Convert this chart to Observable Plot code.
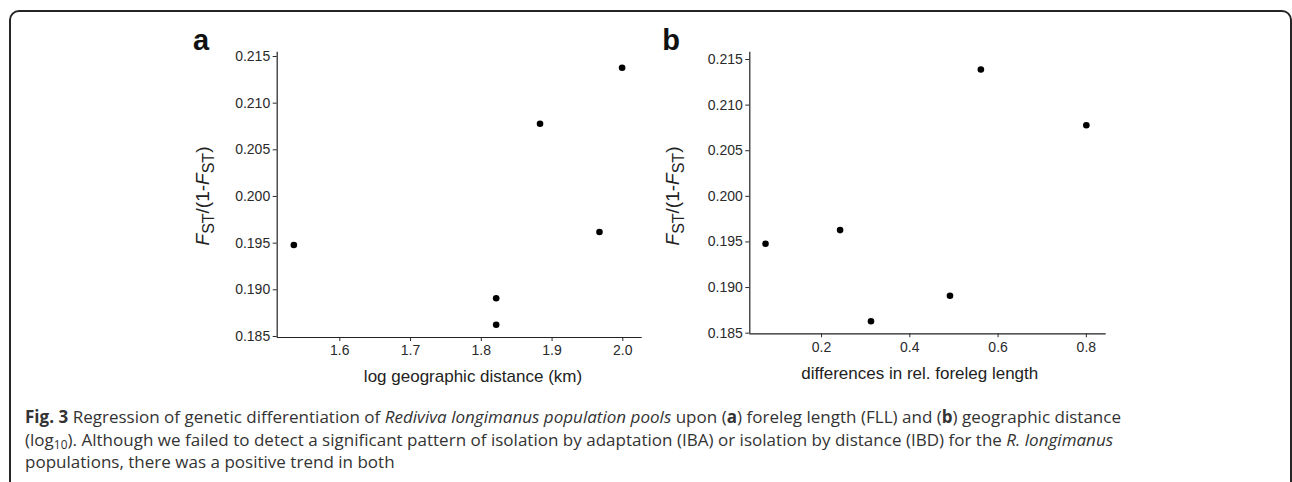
<!DOCTYPE html>
<html>
<head>
<meta charset="utf-8">
<script src="https://cdn.jsdelivr.net/npm/d3@7"></script>
<script src="https://cdn.jsdelivr.net/npm/@observablehq/plot@0.6"></script>
<style>
html, body { margin: 0; padding: 0; background: #fff; }
#root { position: relative; width: 1292px; height: 482px; overflow: hidden; }
#frame { position: absolute; left: 9px; top: 10px; width: 1283px; height: 600px; border: 2px solid #262626; border-radius: 10px; box-sizing: border-box; pointer-events: none; }
.panel { position: absolute; top: 0; }
#caption { position: absolute; left: 25px; top: 406px; font-family: "Open Sans", sans-serif; font-size: 17px; line-height: 22.5px; color: #333; white-space: nowrap; }
#caption sub { font-size: 0.7em; line-height: 0; vertical-align: -0.25em; }
</style>
</head>
<body>
<div id="root">
  <div id="panelA" class="panel" style="left:150px"></div>
  <div id="panelB" class="panel" style="left:620px"></div>
  <div id="caption">
    <div class="ln" id="ln1"><b>Fig. 3</b> Regression of genetic differentiation of <i>Rediviva longimanus population pools</i> upon (<b>a</b>) foreleg length (FLL) and (<b>b</b>) geographic distance</div>
    <div class="ln">(log<sub>10</sub>). Although we failed to detect a significant pattern of isolation by adaptation (IBA) or isolation by distance (IBD) for the <i>R. longimanus</i></div>
    <div class="ln">populations, there was a positive trend in both</div>
  </div>
  <div id="frame"></div>
</div>
<script>
// ---- data ----
const logDistance = [1.535, 1.821, 1.821, 1.883, 1.967, 1.999];
const fstDistance = [0.1948, 0.1891, 0.18625, 0.2078, 0.1962, 0.2138];
const forelegDiff = [0.073, 0.242, 0.312, 0.491, 0.561, 0.800];
const fstForeleg = [0.1948, 0.1963, 0.1863, 0.1891, 0.2139, 0.2078];
const xTicksA = [1.6, 1.7, 1.8, 1.9, 2.0];
const xTicksB = [0.2, 0.4, 0.6, 0.8];
const yTicks = [0.185, 0.190, 0.195, 0.200, 0.205, 0.210, 0.215];
const xTitleA = "log geographic distance (km)";
const xTitleB = "differences in rel. foreleg length";
const panelLabels = ["a", "b"];

const font = "'Liberation Sans', Arial, sans-serif";

function makePanel(xs, ys, xTicks, xDomain, yDomain, margins, xTitle, titleDx, titleDy, label) {
  const data = xs.map((x, i) => ({x, y: ys[i]}));
  const svg = Plot.plot({
    width: 500,
    height: 400,
    marginLeft: margins[0], marginRight: margins[1], marginTop: margins[2], marginBottom: margins[3],
    style: {fontFamily: font, fontSize: "14px", color: "#2a2a2a", background: "transparent", overflow: "visible"},
    x: {domain: xDomain},
    y: {domain: yDomain},
    marks: [
      Plot.ruleY([yDomain[0]], {stroke: "#222", strokeWidth: 1.2}),
      Plot.ruleX([xDomain[0]], {stroke: "#222", strokeWidth: 1.2}),
      Plot.axisX(xTicks, {tickSize: 4, tickPadding: 4, tickFormat: d3.format(".1f"), label: null, fontSize: 14}),
      Plot.axisY(yTicks, {tickSize: 4, tickPadding: 3, tickFormat: d3.format(".3f"), label: null, fontSize: 14}),
      Plot.dot(data, {x: "x", y: "y", r: 3.3, fill: "black", stroke: null}),
      Plot.text([xTitle], {text: d => d, frameAnchor: "bottom", dx: titleDx, dy: titleDy, fontSize: 17, fill: "#222"})
    ]
  });
  const s = d3.select(svg);
  // y axis title: F_ST/(1-F_ST)
  const t = s.append("text")
    .attr("transform", "translate(59,196) rotate(-90)")
    .attr("text-anchor", "middle")
    .attr("font-family", font)
    .attr("font-size", 19)
    .attr("fill", "#222");
  t.append("tspan").attr("font-style", "italic").text("F");
  t.append("tspan").attr("font-size", 16).attr("dy", 4.5).text("ST");
  t.append("tspan").attr("dy", -4.5).text("/(1-");
  t.append("tspan").attr("font-style", "italic").text("F");
  t.append("tspan").attr("font-size", 16).attr("dy", 4.5).text("ST");
  t.append("tspan").attr("dy", -4.5).text(")");
  // panel letter
  s.append("text")
    .attr("x", 51).attr("y", 50)
    .attr("font-family", font)
    .attr("font-size", 29)
    .attr("font-weight", "bold")
    .attr("fill", "#111")
    .text(label);
  return svg;
}

document.getElementById("panelA").appendChild(
  makePanel(logDistance, fstDistance, xTicksA, [1.5115, 2.0274], [0.18489, 0.21546],
    [126.7, 8.3, 51.7, 63], xTitleA, 13.3, 44.5, panelLabels[0]));
document.getElementById("panelB").appendChild(
  makePanel(forelegDiff, fstForeleg, xTicksB, [0.0374, 0.845], [0.18493, 0.2158],
    [129.3, 14.3, 51.7, 66.7], xTitleB, -8.2, 45.5, panelLabels[1]));

// fit caption width (line 1 spans ~1096px in the reference)
const ln1 = document.getElementById("ln1");
const range = document.createRange();
range.selectNodeContents(ln1);
const w = range.getBoundingClientRect().width;
const n = ln1.textContent.length;
const ls = (1096 - w) / n;
document.getElementById("caption").style.letterSpacing = ls + "px";
</script>
</body>
</html>
